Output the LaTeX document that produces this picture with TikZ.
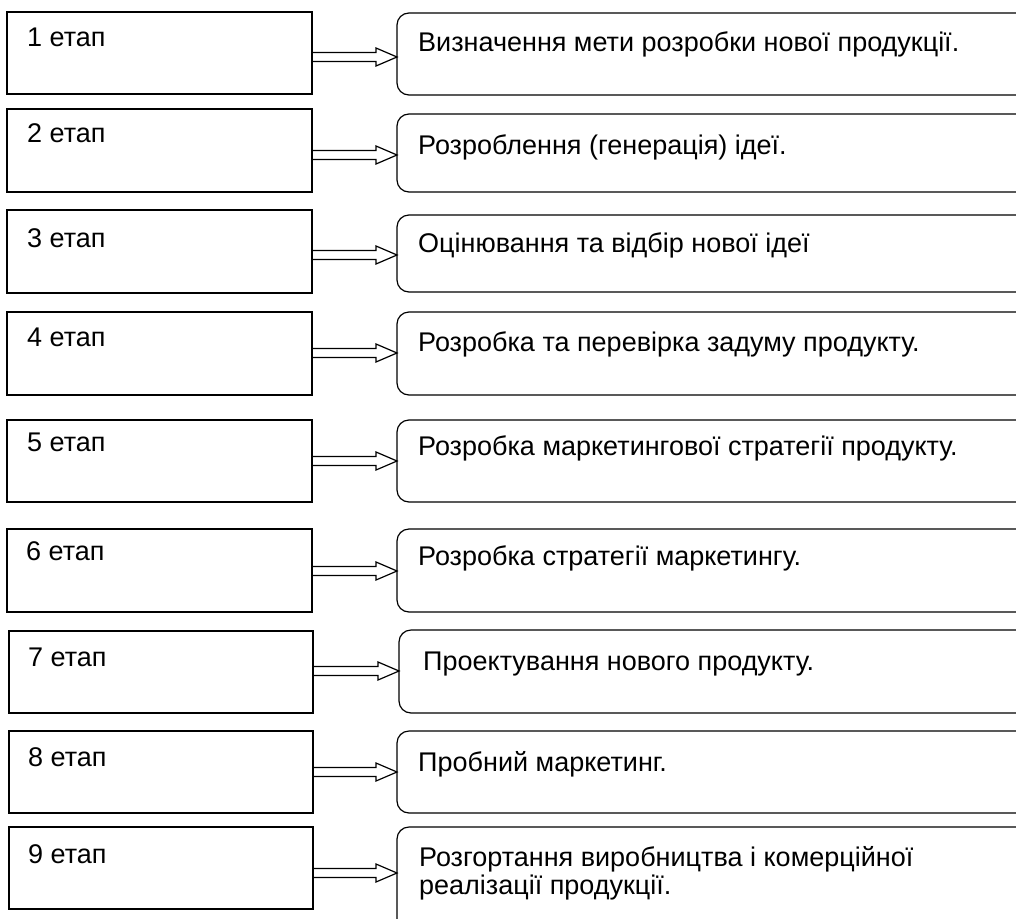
\documentclass[tikz,border=0pt]{standalone}
\usepackage{fontspec}
\setmainfont{Liberation Sans}
\usetikzlibrary{calc}
\tikzset{
  stagebox/.style={draw, line width=1.2pt, anchor=north west, inner sep=0pt, outer sep=0pt, minimum width=305pt},
  goalbox/.style={draw, line width=1.2pt, rounded corners=12pt, anchor=north west, inner sep=0pt, outer sep=0pt, minimum width=643pt},
  txt/.style={anchor=base west, inner sep=0pt, font=\fontsize{27}{30}\selectfont},
  arrowline/.style={draw, line width=1.2pt, line join=miter}
}
\newcommand\stagearrow[3]{%
  \draw[arrowline] let \p1=(#1.east), \p2=(#2.west) in
    (\x1,#3-4.5) -- (\x2-21,#3-4.5) -- (\x2-21,#3-9) -- (\x2,#3)
    -- (\x2-21,#3+9) -- (\x2-21,#3+4.5) -- (\x1,#3+4.5);}
\begin{document}
\begin{tikzpicture}[x=1pt,y=-1pt]
\useasboundingbox (0,0) rectangle (1016,918);
\clip (0,0) rectangle (1016,918);
% row 1
\node[stagebox, minimum height=82pt] (l1) at (7,12) {};
\node[goalbox, minimum height=82pt] (r1) at (397,13) {};
\node[txt] (t1) at (27,46) {1 етап};
\node[txt] (u1) at (418,51) {Визначення мети розробки нової продукції.};
\stagearrow{l1}{r1}{57}
% row 2
\node[stagebox, minimum height=83pt] (l2) at (7,109) {};
\node[goalbox, minimum height=78pt] (r2) at (397,114) {};
\node[txt] (t2) at (27,142) {2 етап};
\node[txt] (u2) at (418,154) {Розроблення (генерація) ідеї.};
\stagearrow{l2}{r2}{155}
% row 3
\node[stagebox, minimum height=83pt] (l3) at (7,210) {};
\node[goalbox, minimum height=77pt] (r3) at (397,215) {};
\node[txt] (t3) at (27,247) {3 етап};
\node[txt] (u3) at (418,252) {Оцінювання та відбір нової ідеї};
\stagearrow{l3}{r3}{255}
% row 4
\node[stagebox, minimum height=83pt] (l4) at (7,312) {};
\node[goalbox, minimum height=83pt] (r4) at (397,312) {};
\node[txt] (t4) at (27,346) {4 етап};
\node[txt] (u4) at (418,351) {Розробка та перевірка задуму продукту.};
\stagearrow{l4}{r4}{353}
% row 5
\node[stagebox, minimum height=82pt] (l5) at (7,420) {};
\node[goalbox, minimum height=82pt] (r5) at (397,420) {};
\node[txt] (t5) at (27,451) {5 етап};
\node[txt] (u5) at (418,455) {Розробка маркетингової стратегії продукту.};
\stagearrow{l5}{r5}{461}
% row 6
\node[stagebox, minimum height=83pt] (l6) at (7,529) {};
\node[goalbox, minimum height=83pt] (r6) at (397,529) {};
\node[txt] (t6) at (26,560) {6 етап};
\node[txt] (u6) at (418,565) {Розробка стратегії маркетингу.};
\stagearrow{l6}{r6}{571}
% row 7
\node[stagebox, minimum height=82pt, minimum width=304pt] (l7) at (9,631) {};
\node[goalbox, minimum height=83pt] (r7) at (399,630) {};
\node[txt] (t7) at (28,666) {7 етап};
\node[txt] (u7) at (423,670) {Проектування нового продукту.};
\stagearrow{l7}{r7}{671}
% row 8
\node[stagebox, minimum height=82pt, minimum width=304pt] (l8) at (9,731) {};
\node[goalbox, minimum height=82pt] (r8) at (397,731) {};
\node[txt] (t8) at (28,766) {8 етап};
\node[txt] (u8) at (418,771) {Пробний маркетинг.};
\stagearrow{l8}{r8}{772}
% row 9
\node[stagebox, minimum height=82pt, minimum width=304pt] (l9) at (9,827) {};
\node[goalbox, minimum height=110pt] (r9) at (397,827) {};
\node[txt] (t9) at (28,863) {9 етап};
\node[txt] (u9) at (419,866) {Розгортання виробництва і комерційної};
\node[txt] (u9b) at (419,894) {реалізації продукції.};
\stagearrow{l9}{r9}{873}
\end{tikzpicture}
\end{document}
